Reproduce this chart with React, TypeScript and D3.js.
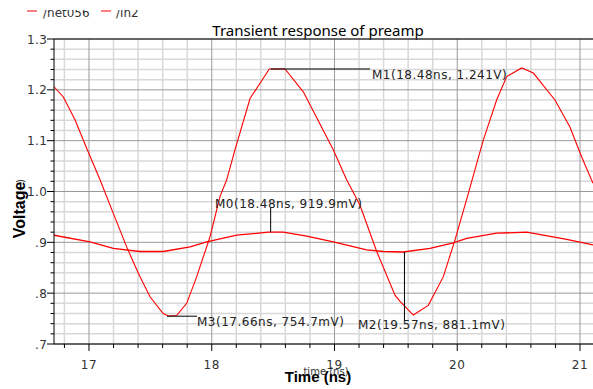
import React from "react";
import * as d3 from "d3";

// ---- data ----
const seriesNames = ["/net056", "/in2"];

// large swing curve (time ns, volts)
const bigT = [16.715, 16.791, 16.886, 16.981, 17.09, 17.198, 17.307, 17.402, 17.497, 17.605, 17.646, 17.714, 17.796, 17.877, 17.986, 18.067, 18.122, 18.189, 18.312, 18.469, 18.597, 18.746, 18.99, 19.099, 19.208, 19.344, 19.493, 19.534, 19.642, 19.764, 19.886, 19.982, 20.09, 20.212, 20.321, 20.403, 20.525, 20.62, 20.796, 20.918, 21.014, 21.106];
const bigV = [1.206, 1.186, 1.141, 1.085, 1.023, 0.957, 0.891, 0.839, 0.793, 0.76, 0.755, 0.756, 0.78, 0.832, 0.911, 0.99, 1.023, 1.082, 1.183, 1.241, 1.241, 1.196, 1.082, 1.023, 0.973, 0.882, 0.796, 0.784, 0.757, 0.776, 0.832, 0.905, 0.996, 1.101, 1.18, 1.226, 1.243, 1.233, 1.18, 1.127, 1.068, 1.016];

// small swing curve
const smallT = [16.715, 17.008, 17.198, 17.415, 17.605, 17.823, 17.959, 18.203, 18.461, 18.583, 18.774, 18.99, 19.262, 19.398, 19.56, 19.778, 19.968, 20.077, 20.321, 20.566, 20.701, 20.892, 21.106];
const smallV = [0.914, 0.901, 0.888, 0.882, 0.882, 0.891, 0.901, 0.914, 0.92, 0.92, 0.912, 0.901, 0.885, 0.882, 0.881, 0.888, 0.899, 0.908, 0.918, 0.92, 0.914, 0.906, 0.895];

// markers
const markerLabels = ["M1(18.48ns, 1.241V)", "M0(18.48ns, 919.9mV)", "M3(17.66ns, 754.7mV)", "M2(19.57ns, 881.1mV)"];
const markerT = [18.48, 18.48, 17.66, 19.57];
const markerV = [1.241, 0.9199, 0.7547, 0.8811];

const xMajor = [17, 18, 19, 20, 21];
const xTickLabels = ["17", "18", "19", "20", "21"];
const yMajor = [1.3, 1.2, 1.1, 1.0, 0.9, 0.8, 0.7];
const yTickLabels = ["1.3", "1.2", "1.1", "1.0", ".9", ".8", ".7"];

const W = 593, H = 389;
const L = 54, R = 593, T = 39, B = 344;

export default function App() {
  const x = d3.scaleLinear().domain([16.715, 21.106]).range([L, R]);
  const y = d3.scaleLinear().domain([0.7, 1.3]).range([B, T]);
  const line = d3.line<[number, number]>().x(d => x(d[0])).y(d => y(d[1]));
  const bigPts = bigT.map((t, i) => [t, bigV[i]] as [number, number]);
  const smallPts = smallT.map((t, i) => [t, smallV[i]] as [number, number]);

  const xMinor = d3.range(0, 23).map(i => 16.8 + i * 0.2).filter(v => v <= 21.1 && Math.abs(v - Math.round(v)) > 0.01);
  const yMinor = d3.range(0, 31).map(i => 0.7 + i * 0.02).filter(v => Math.abs(v * 10 - Math.round(v * 10)) > 0.01);

  const mfont = { fontFamily: "DejaVu Sans", fontSize: 12, letterSpacing: 0.5, fill: "#222" } as const;

  const mx = markerT.map(t => x(t));
  const my = markerV.map(v => y(v));

  return (
    <svg width={W} height={H} style={{ position: "absolute", left: 0, top: 0, background: "#fff" }}>
      <defs>
        <clipPath id="plot"><rect x={L} y={T} width={R - L} height={B - T} /></clipPath>
        <clipPath id="leg"><rect x={0} y={10} width={200} height={20} /></clipPath>
      </defs>
      <rect width={W} height={H} fill="#fff" />
      {/* legend (clipped at top) */}
      <g clipPath="url(#leg)">
        <line x1={27} x2={37} y1={11} y2={11} stroke="#f00" strokeWidth={1} />
        <text x={43} y={16.5} style={{ fontFamily: "DejaVu Sans", fontSize: 12, fill: "#333" }}>{seriesNames[0]}</text>
        <line x1={101} x2={111} y1={11} y2={11} stroke="#f00" strokeWidth={1} />
        <text x={116} y={16.5} style={{ fontFamily: "DejaVu Sans", fontSize: 12, fill: "#333" }}>{seriesNames[1]}</text>
      </g>
      <text x={318} y={36} textAnchor="middle" style={{ fontFamily: "Noto Sans", fontSize: 15, fill: "#000" }}>Transient response of preamp</text>

      {/* grid */}
      {xMinor.map((v, i) => <line key={"xm" + i} x1={x(v)} x2={x(v)} y1={T} y2={B} stroke="#d8d8d8" strokeWidth={1.5} />)}
      {yMinor.map((v, i) => <line key={"ym" + i} x1={L} x2={R} y1={y(v)} y2={y(v)} stroke="#d8d8d8" strokeWidth={1.5} />)}
      {xMajor.map((v, i) => <line key={"xM" + i} x1={x(v)} x2={x(v)} y1={T} y2={B} stroke="#999" strokeWidth={1} />)}
      {yMajor.map((v, i) => <line key={"yM" + i} x1={L} x2={R} y1={y(v)} y2={y(v)} stroke="#999" strokeWidth={1} />)}

      {/* curves */}
      <g clipPath="url(#plot)" fill="none" stroke="#f00">
        <path d={line(bigPts) || ""} strokeWidth={1.1} />
        <path d={line(smallPts) || ""} strokeWidth={1.3} />
      </g>

      {/* markers */}
      <line x1={mx[0]} x2={370} y1={my[0]} y2={my[0]} stroke="#000" />
      <text x={372} y={79} style={mfont}>{markerLabels[0]}</text>
      <line x1={mx[1]} x2={mx[1]} y1={my[1]} y2={207} stroke="#000" />
      <text x={215} y={208} style={mfont}>{markerLabels[1]}</text>
      <line x1={mx[2] - 3} x2={197} y1={my[2]} y2={my[2]} stroke="#000" />
      <text x={197} y={325.5} style={mfont}>{markerLabels[2]}</text>
      <line x1={mx[3]} x2={mx[3]} y1={my[3]} y2={321} stroke="#000" />
      <text x={358} y={329} style={mfont}>{markerLabels[3]}</text>

      {/* axes */}
      <line x1={L} x2={R} y1={T} y2={T} stroke="#000" />
      <line x1={L} x2={L} y1={T} y2={B} stroke="#000" />
      <line x1={L} x2={R} y1={B} y2={B} stroke="#000" />
      {xMajor.map((v, i) => <line key={"xt" + i} x1={x(v)} x2={x(v)} y1={B} y2={B + 7} stroke="#000" />)}
      {xMinor.map((v, i) => <line key={"xtm" + i} x1={x(v)} x2={x(v)} y1={B} y2={B + 4} stroke="#000" />)}
      {yMajor.map((v, i) => <line key={"yt" + i} x1={L - 7} x2={L} y1={y(v)} y2={y(v)} stroke="#000" />)}
      {yMinor.map((v, i) => <line key={"ytm" + i} x1={L - 3.5} x2={L} y1={y(v)} y2={y(v)} stroke="#000" />)}
      {xMajor.map((v, i) => (
        <text key={"xl" + i} x={x(v)} y={369} textAnchor="middle" style={{ fontFamily: "DejaVu Sans", fontSize: 12, letterSpacing: 0.5, fill: "#333" }}>{xTickLabels[i]}</text>
      ))}
      {yMajor.map((v, i) => (
        <text key={"yl" + i} x={47.5} y={y(v) + 4.5} textAnchor="end" style={{ fontFamily: "DejaVu Sans", fontSize: 12, letterSpacing: 0.5, fill: "#333" }}>{yTickLabels[i]}</text>
      ))}

      {/* axis titles (overlapping, as in the reference) */}
      <text x={326} y={375} textAnchor="middle" style={{ fontFamily: "DejaVu Sans", fontSize: 10, fill: "#333" }}>time (ns)</text>
      <text x={318} y={382} textAnchor="middle" style={{ fontFamily: "Liberation Sans", fontWeight: "bold", fontSize: 15, fill: "#000" }}>Time (ns)</text>
      <text transform="translate(24,181) rotate(-90)" textAnchor="middle" style={{ fontFamily: "DejaVu Sans", fontSize: 10, fill: "#333" }}>)</text>
      <text transform="translate(25,210) rotate(-90)" textAnchor="middle" style={{ fontFamily: "Liberation Sans", fontWeight: "bold", fontSize: 16, fill: "#000" }}>Voltage</text>
    </svg>
  );
}
